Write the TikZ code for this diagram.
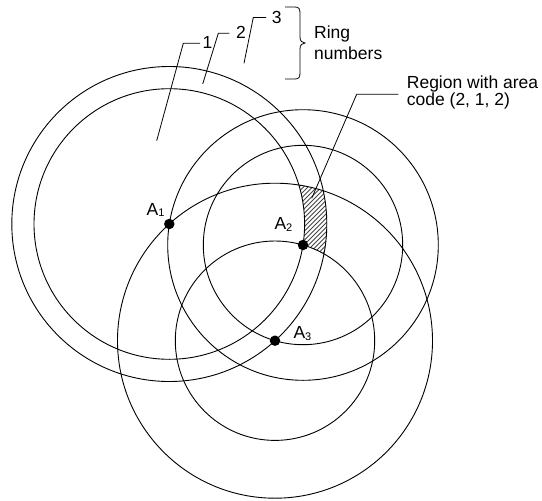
\documentclass[tikz,border=0pt]{standalone}
\usepackage{fontspec}
\setmainfont{Liberation Sans}
\usetikzlibrary{calc}
\newcommand\asub[1]{\raisebox{-1.7pt}{\fontsize{11}{11}\selectfont #1}}
\begin{document}
\begin{tikzpicture}[x=1pt,y=-1pt,
  ring/.style={line width=0.9pt},
  leader/.style={line width=0.8pt},
  lbl/.style={inner sep=0pt, font=\fontsize{17.5}{21}\selectfont},
  regfont/.style={inner sep=0pt, font=\fontsize{17.5}{17.5}\selectfont},
  dot/.style={circle, fill=black, inner sep=0pt, minimum size=10.5pt},
  hatchline/.style={line width=0.8pt, black!72}]
\useasboundingbox (0,0) rectangle (542,501);
\coordinate (A1) at (169.3,224);
\coordinate (A2) at (303,245);
\coordinate (A3) at (275,340.7);
% hatched region (2,1,2)
\begin{scope}
  \clip (A1) circle (157.5pt);
  \clip (A2) circle (99.7pt);
  \clip (A3) circle (157.5pt);
  \foreach \k in {170,174.5,...,340} \draw[hatchline] (\k,280) -- (\k+120,160);
  \fill[white] (A1) circle (135.3pt);
  \fill[white] (A3) circle (99.7pt);
\end{scope}
% rings
\draw[ring] (A1) circle (135.3pt) (A1) circle (157.5pt);
\draw[ring] (A2) circle (99.7pt) (A2) circle (135.3pt);
\draw[ring] (A3) circle (99.7pt) (A3) circle (157.5pt);
% points
\node[dot] (d1) at (A1) {};
\node[dot] (d2) at (A2) {};
\node[dot] (d3) at (A3) {};
\node[lbl, anchor=base west] (la1) at (146.5,215) {A\asub{1}};
\node[lbl, anchor=base west] (la2) at (274.3,229.5) {A\asub{2}};
\node[lbl, anchor=base west] (la3) at (293.3,338.3) {A\asub{3}};
% ring numbers
\node[lbl, anchor=base] (n1) at (207.5,48.3) {1};
\node[lbl, anchor=base] (n2) at (241,38.3) {2};
\node[lbl, anchor=base] (n3) at (276.7,23.3) {3};
\coordinate (p1) at (156.7,140.7); \coordinate (q1) at (183.3,43.3); \coordinate (t1) at (200,43.3);
\coordinate (p2) at (202.7,84);    \coordinate (q2) at (218.3,33.3); \coordinate (t2) at (229.3,33.3);
\coordinate (p3) at (244,63.3);    \coordinate (q3) at (253.3,17.5); \coordinate (t3) at (266,17.5);
\draw[leader] (p1) -- (q1) -- (t1);
\draw[leader] (p2) -- (q2) -- (t2);
\draw[leader] (p3) -- (q3) -- (t3);
% brace
\draw[leader] (285,7) -- (295,7) .. controls (299,7) and (300,9) .. (300,13) -- (300,37)
  .. controls (300,41) and (302,43) .. (305,43) .. controls (302,43) and (300,45) .. (300,49)
  -- (300,73) .. controls (300,77) and (299,79) .. (295,79) -- (285,79);
\node[lbl, anchor=base west, align=left] (rn) at (314,59.3) {Ring\\numbers};
% region label
\coordinate (h1) at (311.7,198.3);
\coordinate (h2) at (356.7,94.3);
\coordinate (h3) at (398.3,94.3);
\draw[leader] (h1) -- (h2) -- (h3);
\node[regfont, anchor=base west, align=left] (reg) at (406.7,105.8) {Region with area\\code (2, 1, 2)};
\end{tikzpicture}
\end{document}
